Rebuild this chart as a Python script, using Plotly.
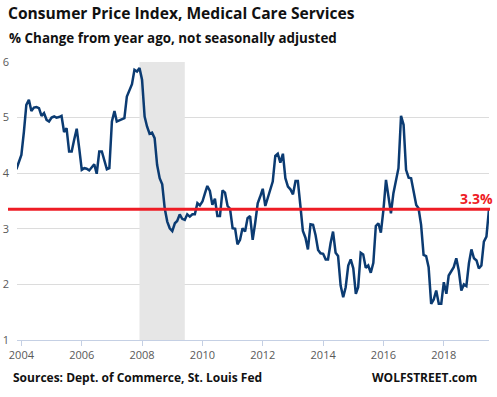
import pandas as pd
import plotly.graph_objects as go

# Monthly % change from year ago, Nov 2003 .. Jul 2019
start_month = "2003-11-01"
cpi_values = [
    4.07, 4.20, 4.33, 4.75, 5.23, 5.32, 5.12, 5.18, 5.19, 5.17, 5.03, 5.08,
    4.96, 4.93, 5.00, 5.02, 5.00, 5.01, 5.03, 4.74, 4.81, 4.39, 4.39, 4.60,
    4.80, 4.45, 4.06, 4.09, 4.08, 4.05, 4.10, 4.16, 3.99, 4.39, 4.39, 4.23,
    4.07, 4.09, 4.93, 5.12, 4.93, 4.95, 4.97, 4.99, 5.38, 5.50, 5.60, 5.86,
    5.83, 5.89, 5.68, 5.02, 4.84, 4.71, 4.73, 4.63, 4.15, 3.91, 3.80, 3.37,
    3.13, 3.01, 2.96, 3.10, 3.14, 3.26, 3.18, 3.16, 3.26, 3.22, 3.26, 3.26,
    3.46, 3.42, 3.49, 3.64, 3.77, 3.68, 3.43, 3.54, 3.23, 3.23, 3.69, 3.65,
    3.41, 3.36, 3.01, 3.00, 2.72, 2.80, 3.01, 2.95, 3.19, 3.23, 2.80, 3.10,
    3.46, 3.58, 3.72, 3.41, 3.55, 3.70, 3.85, 4.31, 4.35, 4.19, 4.35, 3.91,
    3.76, 3.71, 3.62, 3.86, 3.86, 3.41, 2.96, 2.84, 2.63, 3.08, 3.07, 2.89,
    2.62, 2.56, 2.55, 2.45, 2.45, 2.74, 2.95, 2.57, 2.51, 1.98, 1.77, 1.95,
    2.34, 2.45, 2.29, 1.83, 1.95, 2.57, 2.54, 2.30, 2.34, 2.21, 2.39, 3.05,
    3.10, 2.93, 3.34, 3.88, 3.61, 3.28, 3.64, 3.85, 4.09, 5.03, 4.87, 4.06,
    3.92, 3.91, 3.70, 3.43, 3.37, 3.07, 2.53, 2.51, 2.31, 1.65, 1.73, 1.89,
    1.65, 1.65, 2.04, 1.83, 2.16, 2.24, 2.31, 2.47, 2.25, 1.89, 2.00, 1.97,
    2.38, 2.63, 2.47, 2.43, 2.29, 2.34, 2.77, 2.86, 3.34,
]
dates = pd.date_range(start_month, periods=len(cpi_values), freq="MS")

recession_start = "2007-12-01"
recession_end = "2009-06-01"
latest_level = 3.35
latest_label = "3.3%"
y_ticks = [1, 2, 3, 4, 5, 6]

title_text = "Consumer Price Index, Medical Care Services"
subtitle_text = "% Change from year ago, not seasonally adjusted"
source_text = "Sources: Dept. of Commerce, St. Louis Fed"
brand_text = "WOLFSTREET.com"

W, H = 497, 397
L, R, T, B = 17, 8, 62, 57
pw, ph = W - L - R, H - T - B

def px(x):
    return (x - L) / pw

def py(y):
    return (H - B - y) / ph

FONT = "Open Sans"

fig = go.Figure()
fig.add_trace(go.Scatter(
    x=dates, y=cpi_values, mode="lines",
    line=dict(color="#0B3B72", width=2.5),
    hoverinfo="skip", showlegend=False,
))

fig.add_shape(type="rect", xref="x", yref="y",
              x0=recession_start, x1=recession_end, y0=1, y1=6,
              fillcolor="#E6E6E6", line=dict(width=0), layer="between")
fig.add_shape(type="line", xref="paper", yref="y",
              x0=px(8), x1=px(490), y0=latest_level, y1=latest_level,
              line=dict(color="#EE1C25", width=3), layer="above")

anns = [
    dict(text=f"<b>{title_text}</b>", x=px(6), y=py(13), size=15.6, color="#111111", xa="left"),
    dict(text=f"<b>{subtitle_text}</b>", x=px(7), y=py(38), size=13.4, color="#111111", xa="left"),
    dict(text=f"<b>{source_text}</b>", x=px(11), y=py(377), size=12, color="#111111", xa="left"),
    dict(text=f"<b>{brand_text}</b>", x=px(479), y=py(377), size=12, color="#111111", xa="right"),
    dict(text=f"<b>{latest_label}</b>", x=px(495), y=py(198.5), size=14, color="#EE1C25", xa="right"),
]
for a in anns:
    fig.add_annotation(text=a["text"], xref="paper", yref="paper", x=a["x"], y=a["y"],
                       xanchor=a["xa"], yanchor="middle", showarrow=False,
                       font=dict(family=FONT, size=a["size"], color=a["color"]))

fig.update_layout(
    width=W, height=H,
    margin=dict(l=L, r=R, t=T, b=B, pad=0),
    paper_bgcolor="white", plot_bgcolor="white",
    showlegend=False,
    font=dict(family=FONT, size=11, color="#595959"),
    xaxis=dict(
        type="date", range=["2003-11-09", "2019-07-02"],
        tick0="2004-01-01", dtick="M24", tickformat="%Y",
        showgrid=False, zeroline=False, automargin=False,
        showline=True, linecolor="#C5D0E4", linewidth=1,
        ticks="outside", ticklen=5, tickcolor="#C5D0E4",
        tickfont=dict(family=FONT, size=11, color="#595959"),
    ),
    yaxis=dict(
        range=[1, 6], tickvals=y_ticks, automargin=False,
        showgrid=True, gridcolor="#DCDCDC", gridwidth=1,
        zeroline=False, showline=False, ticks="",
        ticklabelstandoff=7,
        tickfont=dict(family=FONT, size=11, color="#595959"),
    ),
)

fig.write_html("out.html", config={"displayModeBar": False},
               post_script="document.body.style.margin='0';document.body.style.overflow='hidden';")
